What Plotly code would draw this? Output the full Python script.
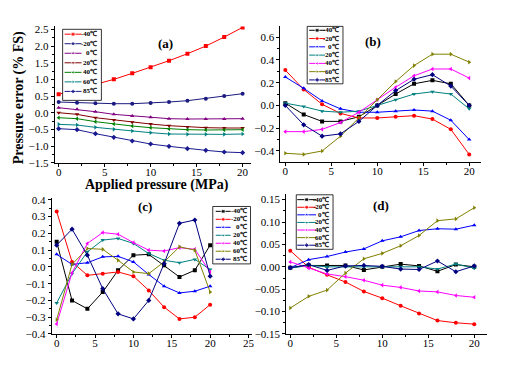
import plotly.graph_objects as go

W, H = 512, 376

pressure = [0, 2, 4, 6, 8, 10, 12, 14, 16, 18, 20]
temps = ["-40℃", "-20℃", "0℃", "20℃", "40℃", "60℃", "85℃"]

a_m40 = [0.55, 0.70, 0.85, 1.00, 1.18, 1.36, 1.56, 1.77, 2.00, 2.27, 2.56]
a_m20 = [0.32, 0.30, 0.28, 0.27, 0.27, 0.29, 0.32, 0.36, 0.42, 0.50, 0.57]
a_0 = [0.15, 0.10, 0.03, -0.05, -0.10, -0.14, -0.18, -0.19, -0.19, -0.19, -0.18]
a_20 = [0.00, -0.05, -0.15, -0.22, -0.29, -0.34, -0.39, -0.43, -0.45, -0.46, -0.46]
a_40 = [-0.15, -0.18, -0.27, -0.34, -0.40, -0.45, -0.49, -0.51, -0.52, -0.52, -0.51]
a_60 = [-0.35, -0.37, -0.44, -0.50, -0.55, -0.60, -0.64, -0.65, -0.65, -0.65, -0.64]
a_85 = [-0.48, -0.51, -0.63, -0.74, -0.85, -0.94, -1.01, -1.08, -1.13, -1.18, -1.20]

b_m40 = [0.02, -0.08, -0.14, -0.14, -0.10, 0.00, 0.10, 0.19, 0.22, 0.19, 0.00]
b_m20 = [0.31, 0.14, 0.01, -0.07, -0.11, -0.11, -0.10, -0.09, -0.12, -0.21, -0.43]
b_0 = [0.25, 0.15, 0.04, -0.03, -0.06, -0.06, -0.05, -0.04, -0.05, -0.13, -0.30]
b_20 = [0.02, -0.01, -0.05, -0.06, -0.05, 0.00, 0.05, 0.10, 0.12, 0.10, -0.03]
b_40 = [-0.23, -0.23, -0.21, -0.15, -0.06, 0.05, 0.16, 0.26, 0.32, 0.32, 0.24]
b_60 = [-0.42, -0.43, -0.40, -0.27, -0.11, 0.05, 0.21, 0.35, 0.45, 0.45, 0.38]
b_85 = [0.00, -0.17, -0.27, -0.25, -0.14, 0.00, 0.13, 0.23, 0.27, 0.17, 0.00]

c_m40 = [0.15, -0.20, -0.25, -0.15, -0.02, 0.07, 0.075, 0.01, -0.06, -0.02, 0.13]
c_m20 = [0.33, 0.03, -0.05, -0.04, -0.03, -0.055, -0.14, -0.24, -0.31, -0.30, -0.225]
c_0 = [0.075, 0.015, 0.025, 0.06, 0.063, 0.03, -0.045, -0.115, -0.155, -0.145, -0.115]
c_20 = [-0.215, -0.04, 0.09, 0.16, 0.17, 0.14, 0.08, 0.04, 0.025, 0.045, -0.015]
c_40 = [-0.34, -0.035, 0.14, 0.205, 0.195, 0.145, 0.10, 0.095, 0.115, 0.105, -0.03]
c_60 = [-0.315, 0.015, 0.11, 0.105, 0.04, -0.03, -0.04, 0.03, 0.12, 0.10, -0.15]
c_85 = [0.13, 0.225, 0.07, -0.13, -0.28, -0.31, -0.20, 0.02, 0.26, 0.28, -0.055]

d_m40 = [-0.002, 0.003, 0.003, 0.003, -0.007, 0.0, 0.006, 0.002, -0.010, 0.005, 0.0]
d_m20 = [0.036, -0.001, -0.018, -0.034, -0.055, -0.070, -0.087, -0.104, -0.120, -0.125, -0.128]
d_0 = [-0.002, 0.016, 0.023, 0.033, 0.040, 0.058, 0.067, 0.081, 0.085, 0.084, 0.093]
d_20 = [-0.003, 0.003, 0.0, 0.0, 0.0, -0.001, 0.0, 0.0, -0.005, 0.006, -0.003]
d_40 = [0.011, -0.003, -0.016, -0.022, -0.030, -0.041, -0.046, -0.054, -0.056, -0.064, -0.068]
d_60 = [-0.092, -0.066, -0.052, -0.014, 0.018, 0.030, 0.047, 0.070, 0.103, 0.107, 0.132]
d_85 = [-0.002, 0.005, -0.008, 0.002, 0.003, 0.001, -0.005, -0.006, 0.013, -0.011, 0.002]

symbols = ["square", "circle", "triangle-up", "triangle-down", "triangle-left", "triangle-right", "diamond"]
colors_a = ["#FF0000", "#1A1A80", "#800080", "#800000", "#008000", "#008080", "#1A1A90"]
colors_o = ["#000000", "#FF0000", "#0000FF", "#008080", "#FF00FF", "#808000", "#000080"]

FONT = "Liberation Serif"

# panel layout (pixels): x-domain, y-domain (top,bottom), ranges, ticks
panels = [
    dict(series=[a_m40, a_m20, a_0, a_20, a_40, a_60, a_85], colors=colors_a,
         dx=(55, 252), dy=(23, 163), xr=[-0.43, 20.86], yr=[-1.5, 2.59],
         ytick=0.5, fmt=".1f", label="(a)", lab_xy=(157, 31),
         leg=dict(box=(63, 26, 102, 99), y0=31, dy=9.8, lx=(65, 82), tx=100)),
    dict(series=[b_m40, b_m20, b_0, b_20, b_40, b_60, b_85], colors=colors_o,
         dx=(282, 484), dy=(23, 162), xr=[-0.54, 21.3], yr=[-0.494, 0.694],
         ytick=0.2, fmt=".1f", label="(b)", lab_xy=(385, 29),
         leg=dict(box=(309, 23, 345, 82), y0=27, dy=8.5, lx=(311, 327), tx=343)),
    dict(series=[c_m40, c_m20, c_0, c_20, c_40, c_60, c_85], colors=colors_o,
         dx=(52, 253), dy=(199.5, 339), xr=[-0.65, 25.39], yr=[-0.4, 0.41],
         ytick=0.1, fmt=".1f", label="(c)", lab_xy=(137, 208),
         leg=dict(box=(214, 208, 252, 267), y0=213, dy=8.2, lx=(217, 232), tx=250)),
    dict(series=[d_m40, d_m20, d_0, d_20, d_40, d_60, d_85], colors=colors_o,
         dx=(288, 490), dy=(195, 339), xr=[-0.43, 21.4], yr=[-0.15, 0.163],
         ytick=0.05, fmt=".2f", label="(d)", lab_xy=(393, 207),
         leg=dict(box=(298, 196, 335, 252), y0=201, dy=7.8, lx=(299, 318), tx=333)),
]

fig = go.Figure()
annotations = []
shapes = []

for i, p in enumerate(panels):
    k = "" if i == 0 else str(i + 1)
    xa, ya = "x" + k, "y" + k
    for name, vals, col, sym in zip(temps, p["series"], p["colors"], symbols):
        fig.add_trace(go.Scatter(x=pressure, y=vals, mode="lines+markers", name=name,
                                 line=dict(color=col, width=1),
                                 marker=dict(symbol=sym, size=4, color=col),
                                 xaxis=xa, yaxis=ya, showlegend=False))
    axis_common = dict(showline=True, linecolor="black", linewidth=1, ticks="outside",
                       ticklen=3, tickwidth=1, tickcolor="black", showgrid=False,
                       zeroline=False, tickfont=dict(family=FONT, size=11, color="black"))
    fig.layout["xaxis" + k] = dict(domain=[p["dx"][0] / W, p["dx"][1] / W], range=p["xr"],
                                   anchor=ya, tick0=0, dtick=5, ticklabelstandoff=-4,
                                   minor=dict(dtick=2.5, ticklen=2, tickcolor="black", ticks="outside"),
                                   **axis_common)
    fig.layout["yaxis" + k] = dict(domain=[1 - p["dy"][1] / H, 1 - p["dy"][0] / H], range=p["yr"],
                                   anchor=xa, tick0=0, dtick=p["ytick"], tickformat=p["fmt"],
                                   minor=dict(dtick=p["ytick"] / 2, ticklen=2, tickcolor="black", ticks="outside"),
                                   **axis_common)
    annotations.append(dict(text="<b>" + p["label"] + "</b>", x=p["lab_xy"][0] / W, y=1 - p["lab_xy"][1] / H,
                            xref="paper", yref="paper", showarrow=False,
                            font=dict(family=FONT, size=13, color="black")))
    lg = p["leg"]
    bx0, by0, bx1, by1 = lg["box"]
    shapes.append(dict(type="rect", xref="x9", yref="y9", x0=bx0, y0=by0, x1=bx1, y1=by1,
                       line=dict(color="black", width=0.8), fillcolor="white", layer="below"))
    for j, (name, col, sym) in enumerate(zip(temps, p["colors"], symbols)):
        yy = lg["y0"] + j * lg["dy"]
        x0, x1 = lg["lx"]
        fig.add_trace(go.Scatter(x=[x0, (x0 + x1) / 2, x1], y=[yy, yy, yy], mode="lines+markers",
                                 line=dict(color=col, width=1),
                                 marker=dict(symbol=sym, size=[0, 4, 0], color=col),
                                 xaxis="x9", yaxis="y9", showlegend=False, hoverinfo="skip"))
        annotations.append(dict(text="<b>" + name + "</b>", x=lg["tx"], y=yy, xref="x9", yref="y9",
                                xanchor="right", yanchor="middle", showarrow=False,
                                font=dict(family=FONT, size=7, color="black")))

fig.layout["xaxis9"] = dict(domain=[0, 1], range=[0, W], visible=False, anchor="y9", fixedrange=True)
fig.layout["yaxis9"] = dict(domain=[0, 1], range=[H, 0], visible=False, anchor="x9", fixedrange=True)

annotations.append(dict(text="<b>Applied pressure (MPa)</b>", x=158 / W, y=1 - 186 / H,
                        xref="paper", yref="paper", showarrow=False, xanchor="center", yanchor="middle",
                        font=dict(family=FONT, size=14, color="black")))
annotations.append(dict(text="<b>Pressure error (% FS)</b>", x=20 / W, y=1 - 96 / H, textangle=-90,
                        xref="paper", yref="paper", showarrow=False, xanchor="center", yanchor="middle",
                        font=dict(family=FONT, size=14, color="black")))

fig.update_layout(width=W, height=H, margin=dict(l=0, r=0, t=0, b=0),
                  paper_bgcolor="white", plot_bgcolor="rgba(0,0,0,0)",
                  annotations=annotations, shapes=shapes, showlegend=False)

fig.write_html("out.html", config={"displayModeBar": False},
               post_script="document.body.style.margin='0';")
